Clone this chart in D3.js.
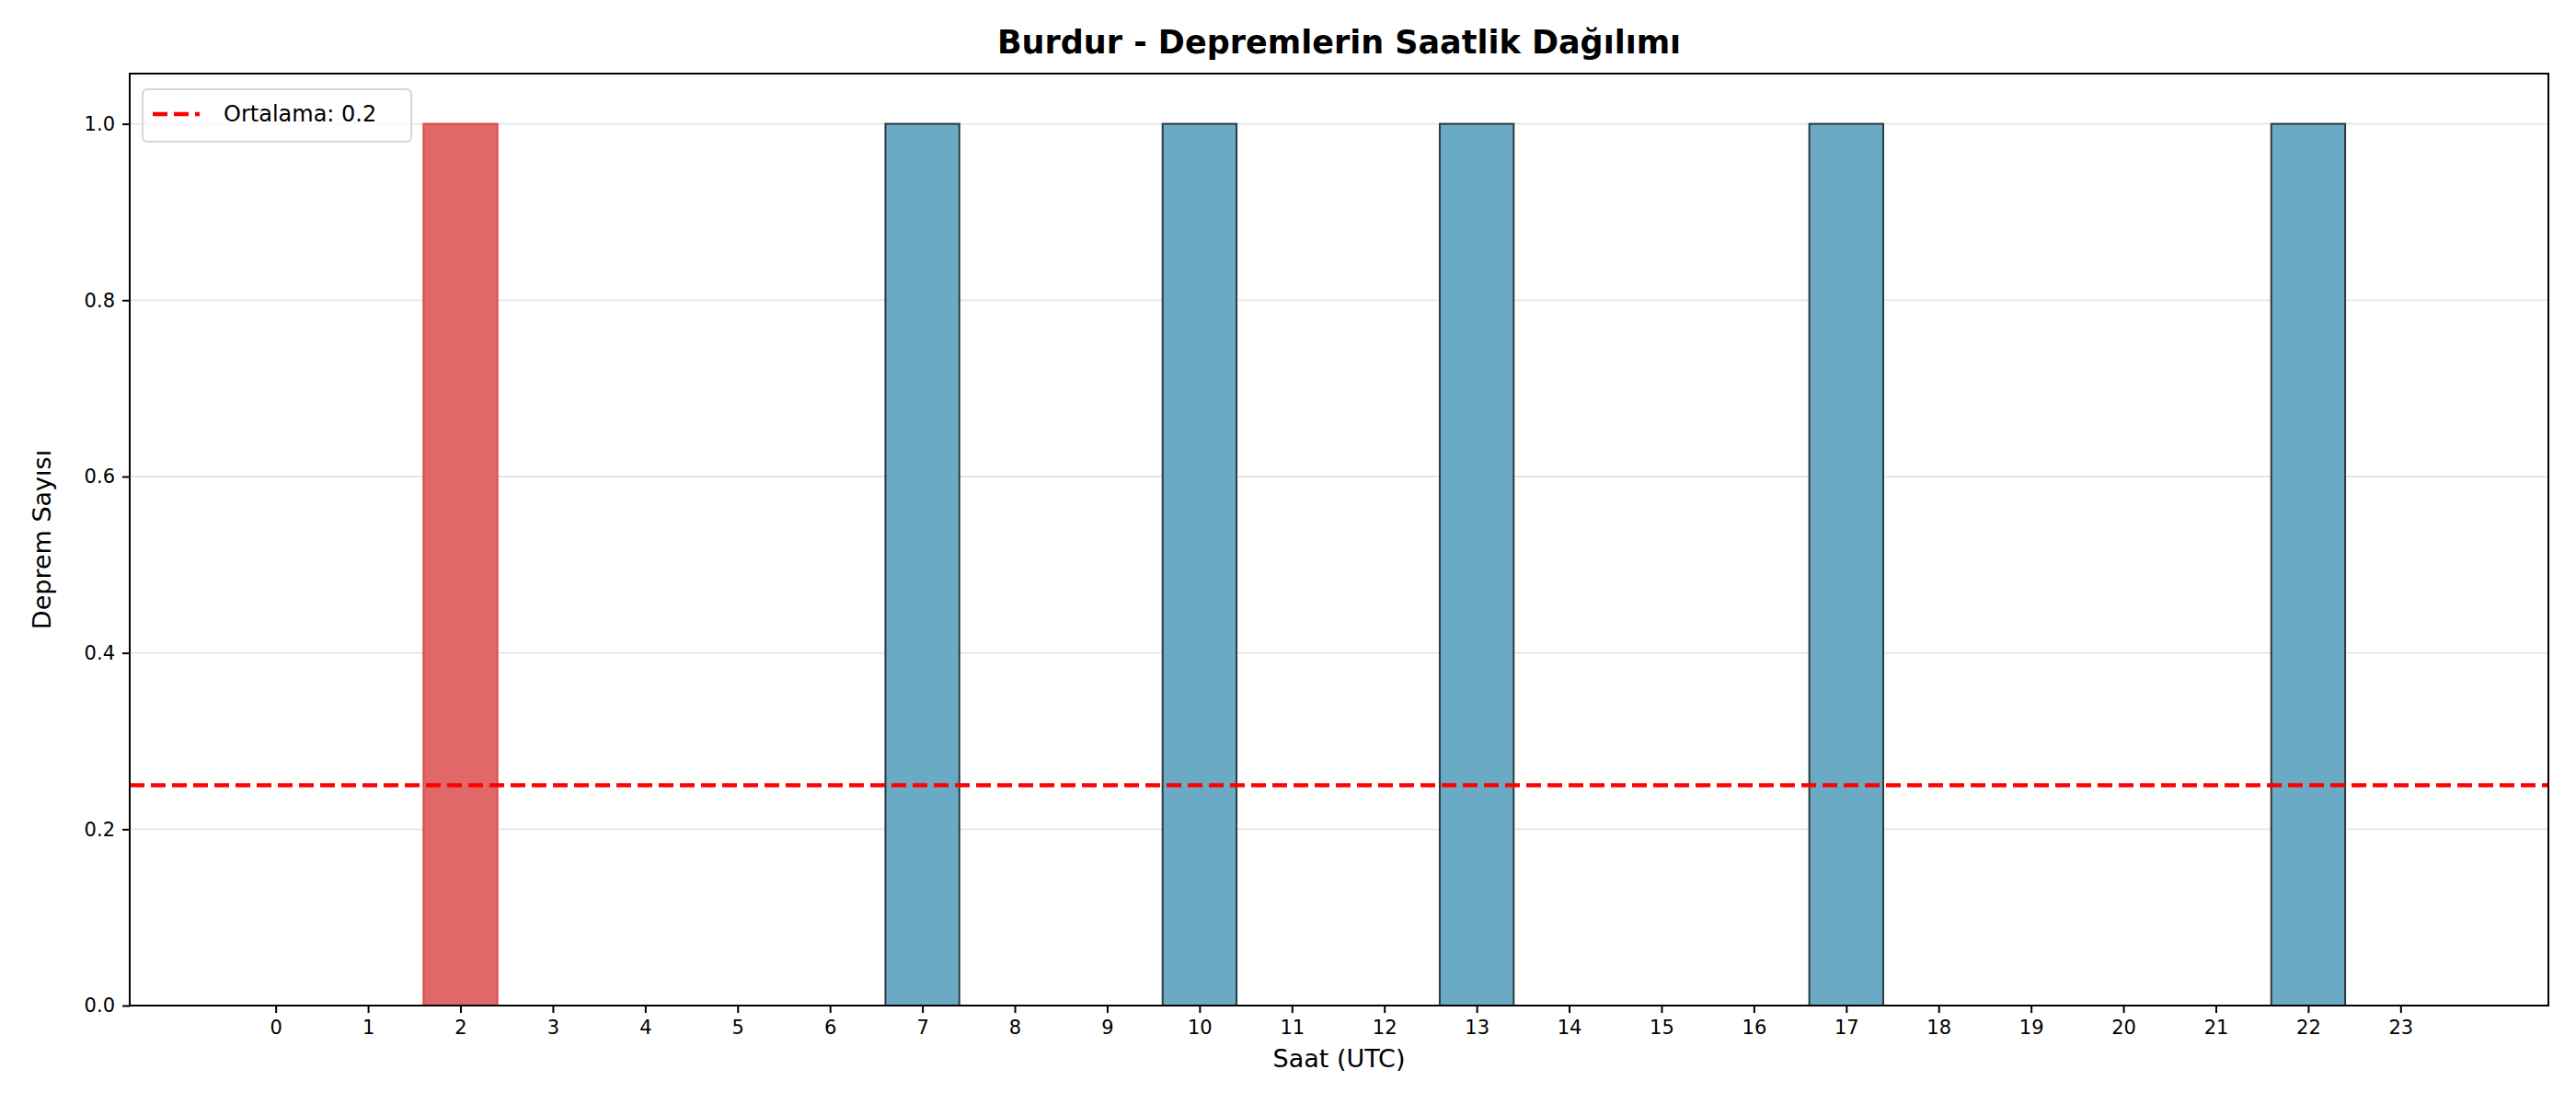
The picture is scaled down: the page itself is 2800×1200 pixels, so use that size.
<!DOCTYPE html>
<html><head><meta charset="utf-8">
<script src="https://cdn.jsdelivr.net/npm/d3@7"></script>
<style>body{margin:0;background:#fff}text{font-family:"DejaVu Sans",sans-serif}</style>
</head><body><svg id="c" width="2800" height="1200"></svg>
<script>
const hours = d3.range(0,24);
const counts = [0,0,1,0,0,0,0,1,0,0,1,0,0,1,0,0,0,1,0,0,0,0,1,0];
const highlightHour = 2;
const meanValue = 0.25;
const meanLabel = "Ortalama: 0.2";
const yTicks = [0,0.2,0.4,0.6,0.8,1.0];
const title = "Burdur - Depremlerin Saatlik Dağılımı";
const xLabel = "Saat (UTC)", yLabel = "Deprem Sayısı";

const svg = d3.select("#c");
const L=141,R=2770,T=80,B=1093;
const x = d3.scaleLinear().domain([-1.58,24.6]).range([L,R]);
const y = d3.scaleLinear().domain([0,1.057]).range([B,T]);

svg.append("g").selectAll("line").data(yTicks).join("line")
 .attr("x1",L).attr("x2",R).attr("y1",d=>y(d)).attr("y2",d=>y(d))
 .attr("stroke","#e5e5e5").attr("stroke-width",1.8);

svg.append("g").selectAll("rect").data(hours.filter(h=>counts[h]>0)).join("rect")
 .attr("x",h=>x(h-0.4)).attr("width",h=>x(h+0.4)-x(h-0.4))
 .attr("y",h=>y(counts[h])).attr("height",h=>y(0)-y(counts[h]))
 .attr("fill",h=>h===highlightHour?"#e06868":"#6aaac5")
 .attr("stroke",h=>h===highlightHour?"#dd4a4f":"#2c3a42")
 .attr("stroke-width",2);

svg.append("line").attr("x1",L).attr("x2",R).attr("y1",y(meanValue)).attr("y2",y(meanValue))
 .attr("stroke","#ff0000").attr("stroke-width",4.5).attr("stroke-dasharray","16,7");

const xa = svg.append("g").attr("transform",`translate(0,${B})`)
 .call(d3.axisBottom(x).tickValues(hours).tickFormat(d3.format("d")).tickSize(8).tickPadding(8));
const ya = svg.append("g").attr("transform",`translate(${L},0)`)
 .call(d3.axisLeft(y).tickValues(yTicks).tickFormat(d3.format(".1f")).tickSize(8).tickPadding(8));
[xa,ya].forEach(a=>{a.select(".domain").remove();a.selectAll("line").attr("stroke","#000").attr("stroke-width",2);a.selectAll("text").attr("font-size",21).attr("fill","#000")});

svg.append("rect").attr("x",L).attr("y",T).attr("width",R-L).attr("height",B-T)
 .attr("fill","none").attr("stroke","#000").attr("stroke-width",2);

svg.append("text").attr("x",(L+R)/2).attr("y",58).attr("text-anchor","middle")
 .attr("font-size",35).attr("font-weight","bold").text(title);
svg.append("text").attr("x",(L+R)/2).attr("y",1160).attr("text-anchor","middle")
 .attr("font-size",27).text(xLabel);
svg.append("text").attr("transform",`translate(55,${(T+B)/2}) rotate(-90)`).attr("text-anchor","middle")
 .attr("font-size",27).text(yLabel);

const lg = svg.append("g");
lg.append("rect").attr("x",155).attr("y",97).attr("width",292).attr("height",57).attr("rx",5)
 .attr("fill","#fff").attr("fill-opacity",0.8).attr("stroke","#d6d6d6").attr("stroke-width",2);
lg.append("line").attr("x1",166).attr("x2",217).attr("y1",124).attr("y2",124)
 .attr("stroke","#ff0000").attr("stroke-width",4.5).attr("stroke-dasharray","16,7");
lg.append("text").attr("x",243).attr("y",132).attr("font-size",24).text(meanLabel);
</script></body></html>
